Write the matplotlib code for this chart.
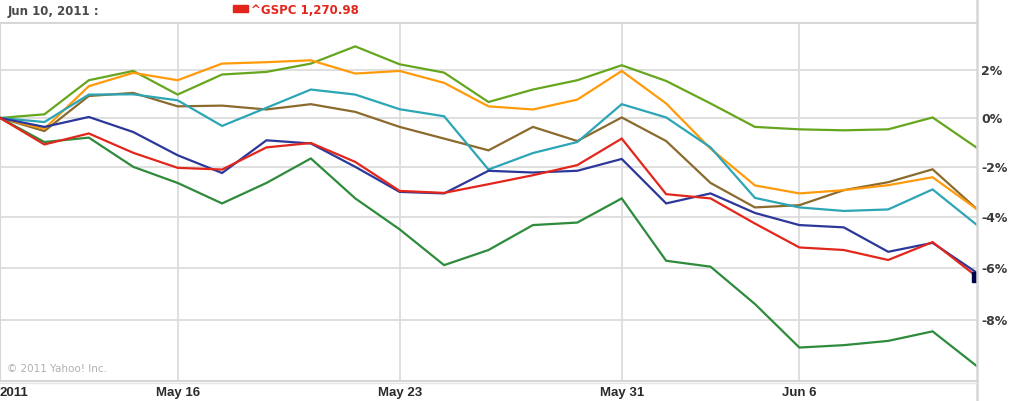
import numpy as np
import matplotlib
matplotlib.use("Agg")
import matplotlib.pyplot as plt
from matplotlib.lines import Line2D

# ---- data (percent change since May 10, 2011) ----
dates = ["May 10", "May 11", "May 12", "May 13", "May 16", "May 17", "May 18", "May 19",
         "May 20", "May 23", "May 24", "May 25", "May 26", "May 27", "May 31", "Jun 1",
         "Jun 2", "Jun 3", "Jun 6", "Jun 7", "Jun 8", "Jun 9", "Jun 10"]

yellowgreen = [0, 0.15, 1.57, 1.96, 0.97, 1.81, 1.92, 2.27, 3.0, 2.24, 1.89, 0.66, 1.18,
               1.57, 2.2, 1.54, 0.6, -0.37, -0.47, -0.51, -0.47, 0.02, -1.23]
orange = [0, -0.45, 1.32, 1.88, 1.57, 2.27, 2.33, 2.41, 1.85, 1.96, 1.46, 0.48, 0.35,
          0.76, 1.96, 0.6, -1.26, -2.75, -3.07, -2.94, -2.74, -2.42, -3.7]
teal = [0, -0.17, 0.97, 0.98, 0.73, -0.33, 0.42, 1.18, 0.97, 0.36, 0.07, -2.11, -1.44,
        -0.99, 0.57, 0.02, -1.21, -3.25, -3.63, -3.77, -3.71, -2.91, -4.33]
brown = [0, -0.54, 0.91, 1.04, 0.48, 0.51, 0.35, 0.57, 0.25, -0.37, -0.85, -1.33, -0.37,
         -0.95, 0.02, -0.95, -2.65, -3.63, -3.54, -2.94, -2.62, -2.1, -3.7]
blue = [0, -0.37, 0.04, -0.58, -1.53, -2.25, -0.92, -1.05, -2.0, -3.01, -3.07, -2.16, -2.23,
        -2.16, -1.68, -3.47, -3.07, -3.85, -4.33, -4.42, -5.38, -5.03, -6.2]
green = [0, -0.99, -0.81, -2.0, -2.65, -3.47, -2.65, -1.66, -3.27, -4.5, -5.9, -5.31, -4.33,
         -4.23, -3.27, -5.73, -5.96, -7.4, -9.05, -8.96, -8.8, -8.44, -9.75]
gspc = [0, -1.09, -0.64, -1.43, -2.04, -2.11, -1.21, -1.03, -1.8, -2.97, -3.05, -2.7, -2.34,
        -1.93, -0.85, -3.1, -3.27, -4.27, -5.21, -5.31, -5.7, -5.0, -6.35]

tick_idx = [0, 4, 9, 14, 18]
tick_labels = ["2011", "May 16", "May 23", "May 31", "Jun 6"]
y_ticks = [2, 0, -2, -4, -6, -8]
y_tick_labels = ["2%", "0%", "-2%", "-4%", "-6%", "-8%"]

header_date = "Jun 10, 2011 :"
header_symbol = "^GSPC 1,270.98"

# ---- figure ----
W, H = 1011, 401
fig = plt.figure(figsize=(W / 100, H / 100), dpi=100)
fig.patch.set_facecolor("white")
ax_left, ax_right = 0.0, 977 / W
ax_top, ax_bot = 1 - 23 / H, 1 - 380.5 / H
ax = fig.add_axes([ax_left, ax_bot, ax_right - ax_left, ax_top - ax_bot])

ax.set_yscale("function",
              functions=(lambda v: np.log1p(np.asarray(v) / 100.0),
                         lambda y: np.expm1(np.asarray(y)) * 100.0))

x = np.arange(len(dates))
grid_c = "#dcdcdc"
for yv in y_ticks:
    ax.axhline(yv, color=grid_c, lw=1.3, zorder=1)
for xi in tick_idx[1:]:
    ax.axvline(xi, color=grid_c, lw=1.3, zorder=1)

series = [
    (brown, "#8b6a2d"),
    (yellowgreen, "#66a61e"),
    (orange, "#ff9a0a"),
    (teal, "#2ca6b6"),
    (green, "#2e8b3c"),
    (blue, "#2b3899"),
    (gspc, "#e3261b"),
]
for vals, col in series:
    ax.plot(x, vals, color=col, lw=1.6, zorder=3, solid_joinstyle="miter")

ax.plot([x[-1]], [gspc[-1]], marker="s", ms=7, color="#00004d", zorder=5, clip_on=True)

ax.set_xlim(0, len(dates) - 1)
ax.set_ylim(-10.28, 4.0)

for s in ax.spines.values():
    s.set_color("#d6d6d6")
    s.set_linewidth(1.5)
ax.spines["right"].set_visible(False)

ax.yaxis.tick_right()
ax.set_yticks(y_ticks)
ax.set_yticklabels(y_tick_labels)
ax.yaxis.set_minor_locator(matplotlib.ticker.NullLocator())
ax.tick_params(axis="y", length=0, pad=3, labelsize=9, labelcolor="#3a3a3a")
for lab in ax.get_yticklabels():
    lab.set_fontweight("bold")
    lab.set_family("DejaVu Sans")

ax.set_xticks(tick_idx)
ax.set_xticklabels(tick_labels)
ax.tick_params(axis="x", length=0, pad=5, labelsize=9.5, labelcolor="#2a2a2a")
for i, lab in enumerate(ax.get_xticklabels()):
    lab.set_fontweight("bold")
    lab.set_family("Liberation Sans")
    if i == 0:
        lab.set_horizontalalignment("left")

# right border spanning the full height
fig.add_artist(Line2D([ax_right, ax_right], [0, 1], transform=fig.transFigure,
                      color="#d6d6d6", lw=1.8))
fig.add_artist(Line2D([0, ax_right], [1 - 382.5 / H, 1 - 382.5 / H], transform=fig.transFigure,
                      color="#e6e6e6", lw=1.0))

# header
fig.text(8 / W, 1 - 11 / H, header_date, ha="left", va="center", fontsize=8.5,
         fontweight="bold", color="#4a4a4a", family="DejaVu Sans")
fig.patches.append(matplotlib.patches.Rectangle((233 / W, 1 - 12 / H), 15 / W, 7 / H,
                                                transform=fig.transFigure, color="#e3261b"))
fig.text(251 / W, 1 - 11 / H, header_symbol, ha="left", va="center", fontsize=8.5,
         fontweight="bold", color="#e3261b", family="DejaVu Sans")

# copyright
ax.text(7 / 977, 1 - (369 - 23) / 357.5, "\u00a9 2011 Yahoo! Inc.", transform=ax.transAxes,
        ha="left", va="center", fontsize=7.5, color="#b0b0b0", family="DejaVu Sans")

fig.savefig("out.png", dpi=100, facecolor="white")
